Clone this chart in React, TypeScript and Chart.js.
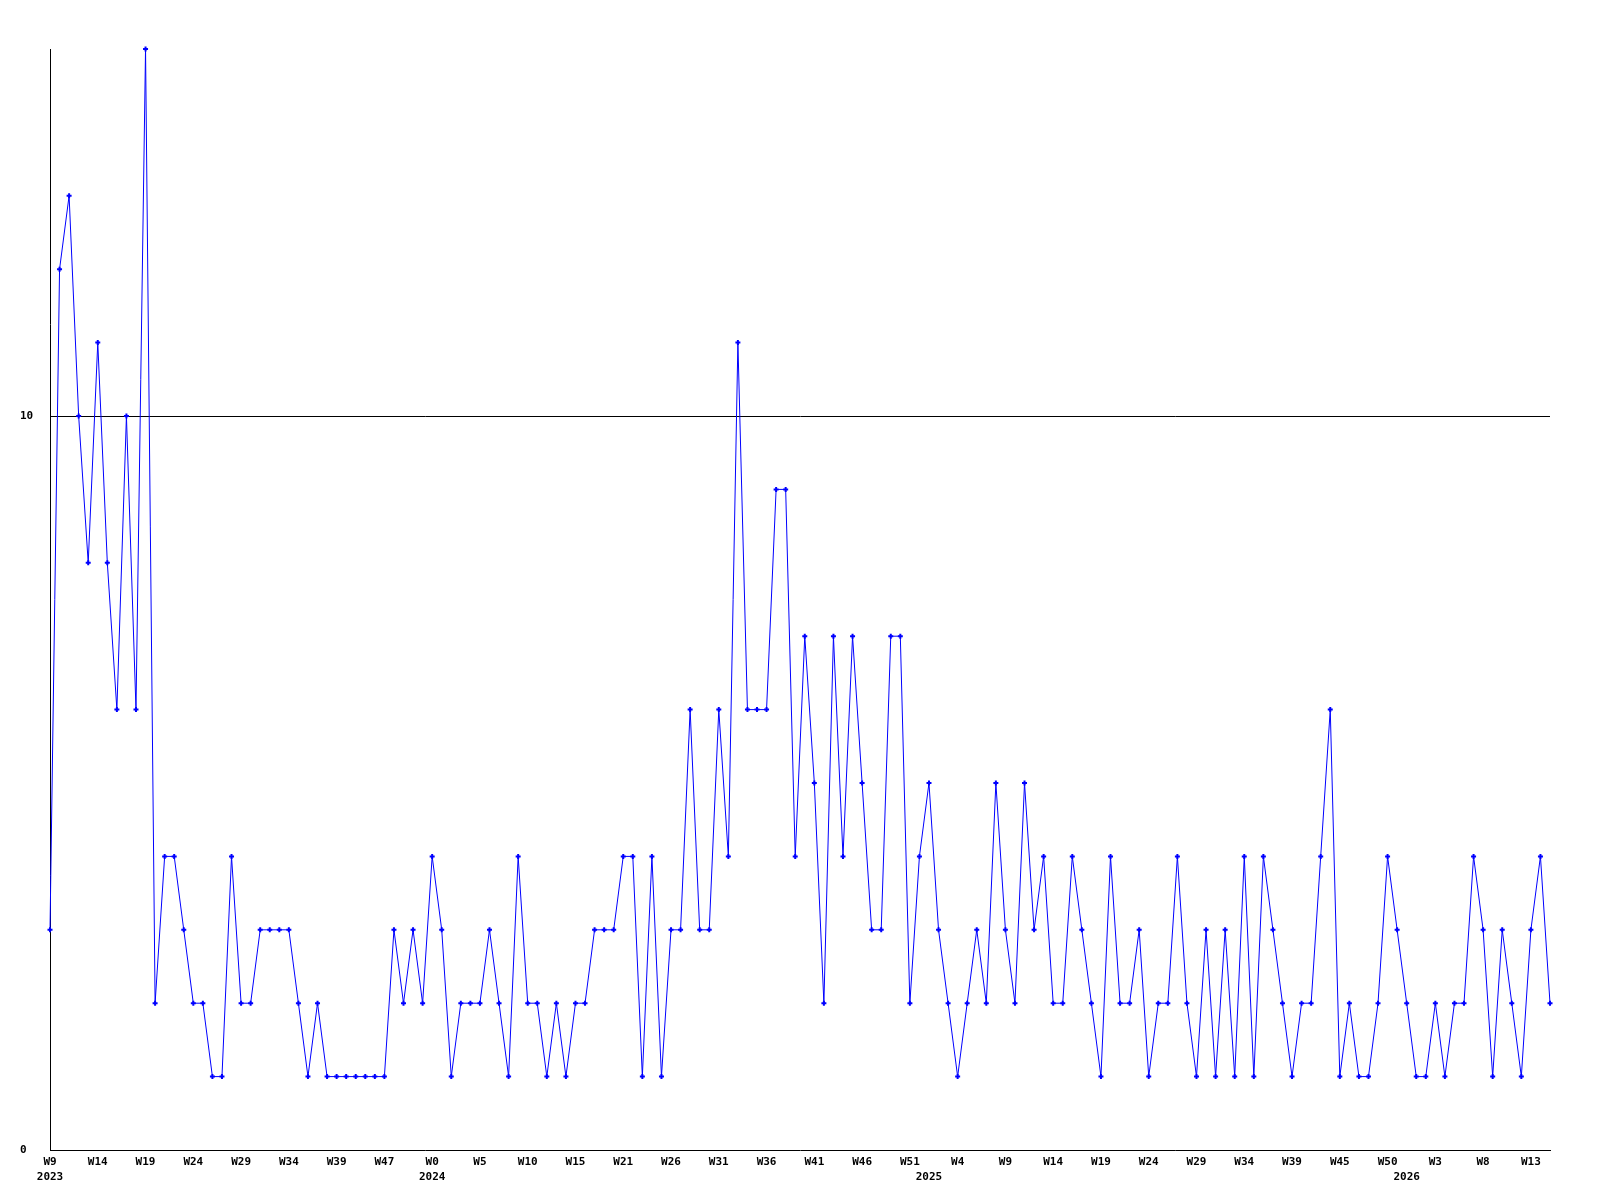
import React, { useEffect, useRef } from "react";
import { Chart, registerables } from "chart.js";

Chart.register(...registerables);

// Weekly counts, 2023 W9 through 2026 W15
const values: number[] = [
  3, 12, 13, 10, 8, 11, 8, 6, 10, 6, 15,
  2, 4, 4, 3, 2, 2, 1, 1, 4, 2,
  2, 3, 3, 3, 3, 2, 1, 2, 1, 1,
  1, 1, 1, 1, 1, 3, 2, 3, 2, 4,
  3, 1, 2, 2, 2, 3, 2, 1, 4, 2,
  2, 1, 2, 1, 2, 2, 3, 3, 3, 4,
  4, 1, 4, 1, 3, 3, 6, 3, 3, 6,
  4, 11, 6, 6, 6, 9, 9, 4, 7, 5,
  2, 7, 4, 7, 5, 3, 3, 7, 7, 2,
  4, 5, 3, 2, 1, 2, 3, 2, 5, 3,
  2, 5, 3, 4, 2, 2, 4, 3, 2, 1,
  4, 2, 2, 3, 1, 2, 2, 4, 2, 1,
  3, 1, 3, 1, 4, 1, 4, 3, 2, 1,
  2, 2, 4, 6, 1, 2, 1, 1, 2, 4,
  3, 2, 1, 1, 2, 1, 2, 2, 4, 3,
  1, 3, 2, 1, 3, 4, 2,
];

// Week tick labels, shown every 5th point
const weekLabels: string[] = [
  "W9", "W14", "W19", "W24", "W29", "W34", "W39", "W47",
  "W0", "W5", "W10", "W15", "W21", "W26", "W31", "W36", "W41", "W46", "W51",
  "W4", "W9", "W14", "W19", "W24", "W29", "W34", "W39", "W45", "W50",
  "W3", "W8", "W13",
];
const weekLabelStep = 5;

// Year labels (second line) and the point index they sit under
const yearLabels: string[] = ["2023", "2024", "2025", "2026"];
const yearIndex: number[] = [0, 40, 92, 142];

// Y axis
const yTickValues: number[] = [0, 10];
const yMin = 0;
const yMax = 15;

const categories: string[] = values.map((_, i) => String(i));

export default function App() {
  const canvasRef = useRef<HTMLCanvasElement | null>(null);

  useEffect(() => {
    if (!canvasRef.current) return;
    const font = { family: "'DejaVu Sans Mono', monospace", size: 11, weight: "bold" as const, lineHeight: 1.36 };
    const chart = new Chart(canvasRef.current, {
      type: "line",
      data: {
        labels: categories,
        datasets: [
          {
            data: values,
            borderColor: "#0000ff",
            backgroundColor: "#0000ff",
            borderWidth: 1,
            tension: 0,
            pointStyle: "cross",
            pointRadius: 2.5,
            pointBorderWidth: 2,
            pointBorderColor: "#0000ff",
            pointHoverRadius: 2.5,
            clip: false as any,
          },
        ],
      },
      options: {
        animation: false,
        responsive: true,
        maintainAspectRatio: false,
        layout: { padding: { left: 12, right: 42, top: 41, bottom: 0 } },
        plugins: {
          legend: { display: false },
          tooltip: { enabled: false },
        },
        scales: {
          x: {
            type: "category",
            offset: false,
            grid: { display: true, color: "rgba(0,0,0,0)", drawTicks: false },
            border: { display: true, color: "#000000", width: 1 },
            ticks: {
              autoSkip: false,
              maxRotation: 0,
              minRotation: 0,
              padding: 5,
              color: "#000000",
              font,
              callback: (_value: any, index: number) => {
                const w = index % weekLabelStep === 0 ? weekLabels[index / weekLabelStep] ?? "" : "";
                const yi = yearIndex.indexOf(index);
                if (yi >= 0) return [w, yearLabels[yi]];
                return w;
              },
            },
            afterFit: (scale: any) => {
              scale.height = 42;
            },
          },
          y: {
            type: "linear",
            min: yMin,
            max: yMax,
            grid: {
              display: true,
              drawTicks: false,
              lineWidth: 1,
              color: (ctx: any) => (ctx.tick && ctx.tick.value === 10 ? "#000000" : "rgba(0,0,0,0)"),
            },
            border: { display: true, color: "#000000", width: 1 },
            ticks: {
              crossAlign: "far",
              padding: 0,
              color: "#000000",
              font,
            },
            afterBuildTicks: (scale: any) => {
              scale.ticks = yTickValues.map((v) => ({ value: v }));
            },
            afterFit: (scale: any) => {
              scale.width = 30;
            },
          },
        },
      },
    });
    return () => chart.destroy();
  }, []);

  return (
    <div style={{ width: 1584, height: 1184, position: "relative", background: "#ffffff" }}>
      <canvas ref={canvasRef} />
    </div>
  );
}
